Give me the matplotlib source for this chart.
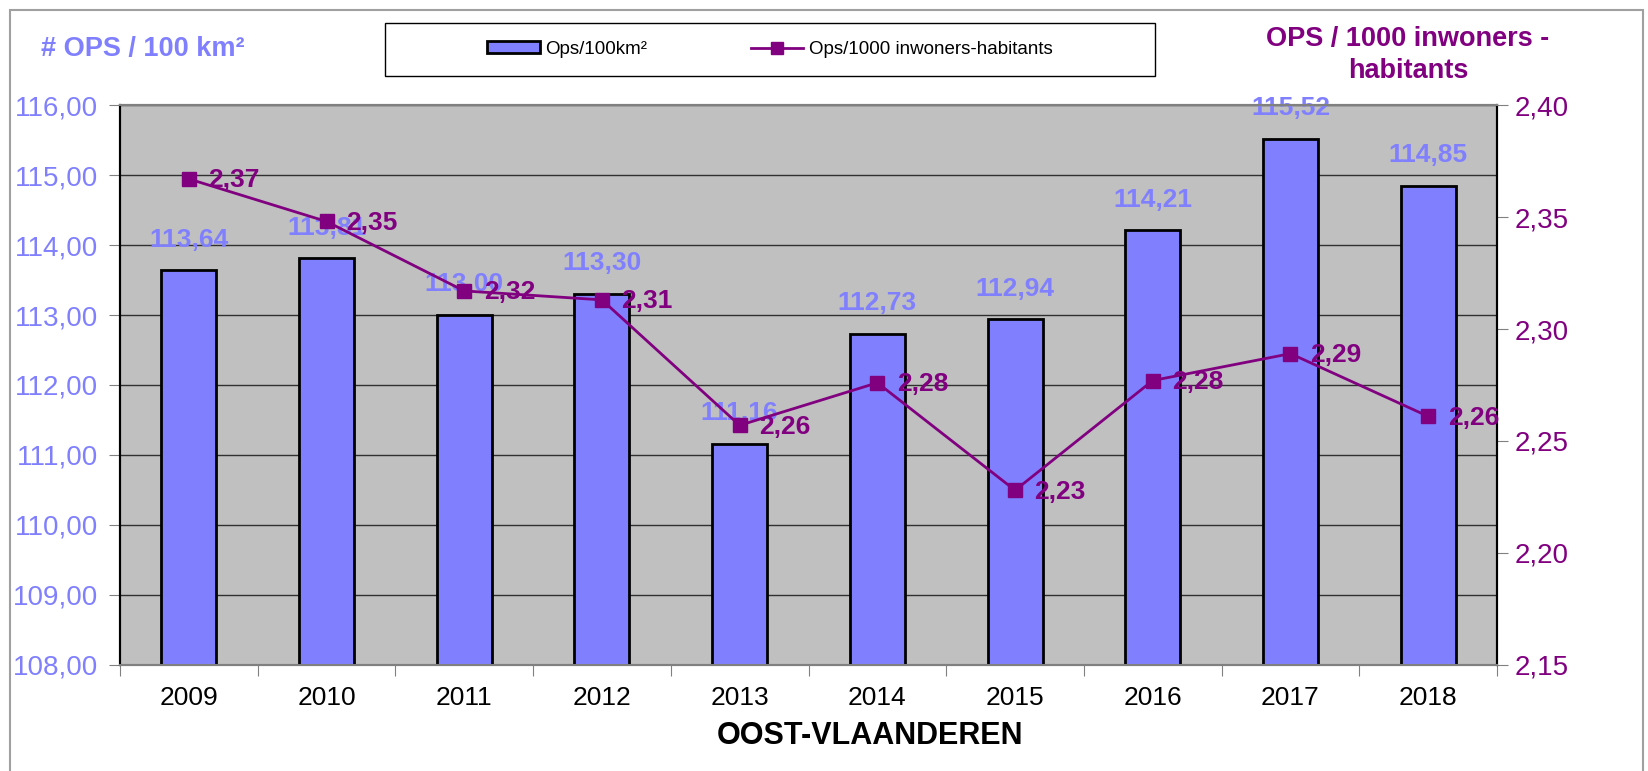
import matplotlib.pyplot as plt
from matplotlib.patches import Rectangle, Patch
from matplotlib.lines import Line2D
from matplotlib.ticker import FuncFormatter, MultipleLocator

plt.rcParams['font.family'] = ['Liberation Sans', 'DejaVu Sans']

years = ['2009', '2010', '2011', '2012', '2013', '2014', '2015', '2016', '2017', '2018']
ops_per_km = [113.64, 113.81, 113.00, 113.30, 111.16, 112.73, 112.94, 114.21, 115.52, 114.85]
ops_per_inh = [2.367, 2.348, 2.317, 2.313, 2.257, 2.276, 2.228, 2.277, 2.289, 2.261]

bar_color = '#8080FF'
line_color = '#800080'

def comma(v, pos=None):
    return f"{v:.2f}".replace('.', ',')

fig = plt.figure(figsize=(16.48, 7.71), dpi=100)
ax1 = fig.add_axes([0.0728, 0.1375, 0.8356, 0.7263])
ax2 = ax1.twinx()

x = range(len(years))

ax1.set_facecolor('#C0C0C0')
ax1.bar(x, ops_per_km, width=0.4, bottom=0, color=bar_color, edgecolor='black', linewidth=2, zorder=3)
ax1.set_ylim(108, 116)
ax1.set_xlim(-0.5, len(years) - 0.5)
ax1.yaxis.set_major_locator(MultipleLocator(1))
ax1.yaxis.set_major_formatter(FuncFormatter(comma))
ax1.grid(axis='y', color='#303030', linewidth=1, zorder=0)
ax1.tick_params(axis='y', colors='#808080', labelcolor=bar_color, labelsize=20, length=8, pad=8)

# category ticks sit between the bars, labels in the middle
ax1.set_xticks([i - 0.5 for i in range(len(years) + 1)])
ax1.set_xticklabels([])
ax1.set_xticks(list(x), minor=True)
ax1.set_xticklabels(years, minor=True)
ax1.tick_params(axis='x', which='major', colors='#808080', length=8)
ax1.tick_params(axis='x', which='minor', length=0, labelsize=19, pad=15)

for i, v in enumerate(ops_per_km):
    ax1.annotate(comma(v), (i, v), xytext=(0, 22), textcoords='offset points',
                 ha='center', va='center', fontsize=19, fontweight='bold', color=bar_color, zorder=4)

ax2.plot(x, ops_per_inh, color=line_color, linewidth=2, marker='s', markersize=10, zorder=5)
ax2.set_ylim(2.15, 2.40)
ax2.yaxis.set_major_locator(MultipleLocator(0.05))
ax2.yaxis.set_major_formatter(FuncFormatter(comma))
ax2.tick_params(axis='y', colors='#808080', labelcolor=line_color, labelsize=20, length=8, pad=5)
for i, v in enumerate(ops_per_inh):
    ax2.annotate(comma(v), (i, v), xytext=(14, -1), textcoords='offset points',
                 ha='left', va='center', fontsize=19, fontweight='bold', color=line_color)

for ax in (ax1, ax2):
    ax.spines['top'].set_color('#808080')
    ax.spines['bottom'].set_color('#808080')
    ax.spines['left'].set_color('black')
    ax.spines['right'].set_color('black')
    for s in ax.spines.values():
        s.set_linewidth(1.5)

fig.text(870 / 1648, 1 - 736 / 771, 'OOST-VLAANDEREN', ha='center', va='center',
         fontsize=22, fontweight='bold', color='black')

fig.text(143 / 1648, 1 - 49 / 771, '# OPS / 100 km²', ha='center', va='center',
         fontsize=19.5, fontweight='bold', color=bar_color)
fig.text(1408 / 1648, 1 - 55 / 771, 'OPS / 1000 inwoners -\nhabitants', ha='center', va='center',
         fontsize=19.5, fontweight='bold', color=line_color, linespacing=1.3)

# legend box
fig.patches.append(Rectangle((385 / 1648, 1 - 76 / 771), 770 / 1648, 53 / 771,
                             transform=fig.transFigure, fill=False, edgecolor='black', linewidth=1))
handles = [Patch(facecolor=bar_color, edgecolor='black', linewidth=2),
           Line2D([], [], color=line_color, linewidth=2, marker='s', markersize=8)]
fig.legend(handles, ['Ops/100km²', 'Ops/1000 inwoners-habitants'], ncol=2, frameon=False,
           loc='center', bbox_to_anchor=(770 / 1648, 1 - 49.5 / 771), fontsize=13.5,
           handlelength=2.8, handletextpad=0.3, columnspacing=5.5, handleheight=0.6)

# outer chart border
fig.patches.append(Rectangle((0.006, -0.01), 0.991, 0.997, transform=fig.transFigure,
                             fill=False, edgecolor='#A0A0A0', linewidth=1.5))

fig.savefig('out.png', dpi=100)
